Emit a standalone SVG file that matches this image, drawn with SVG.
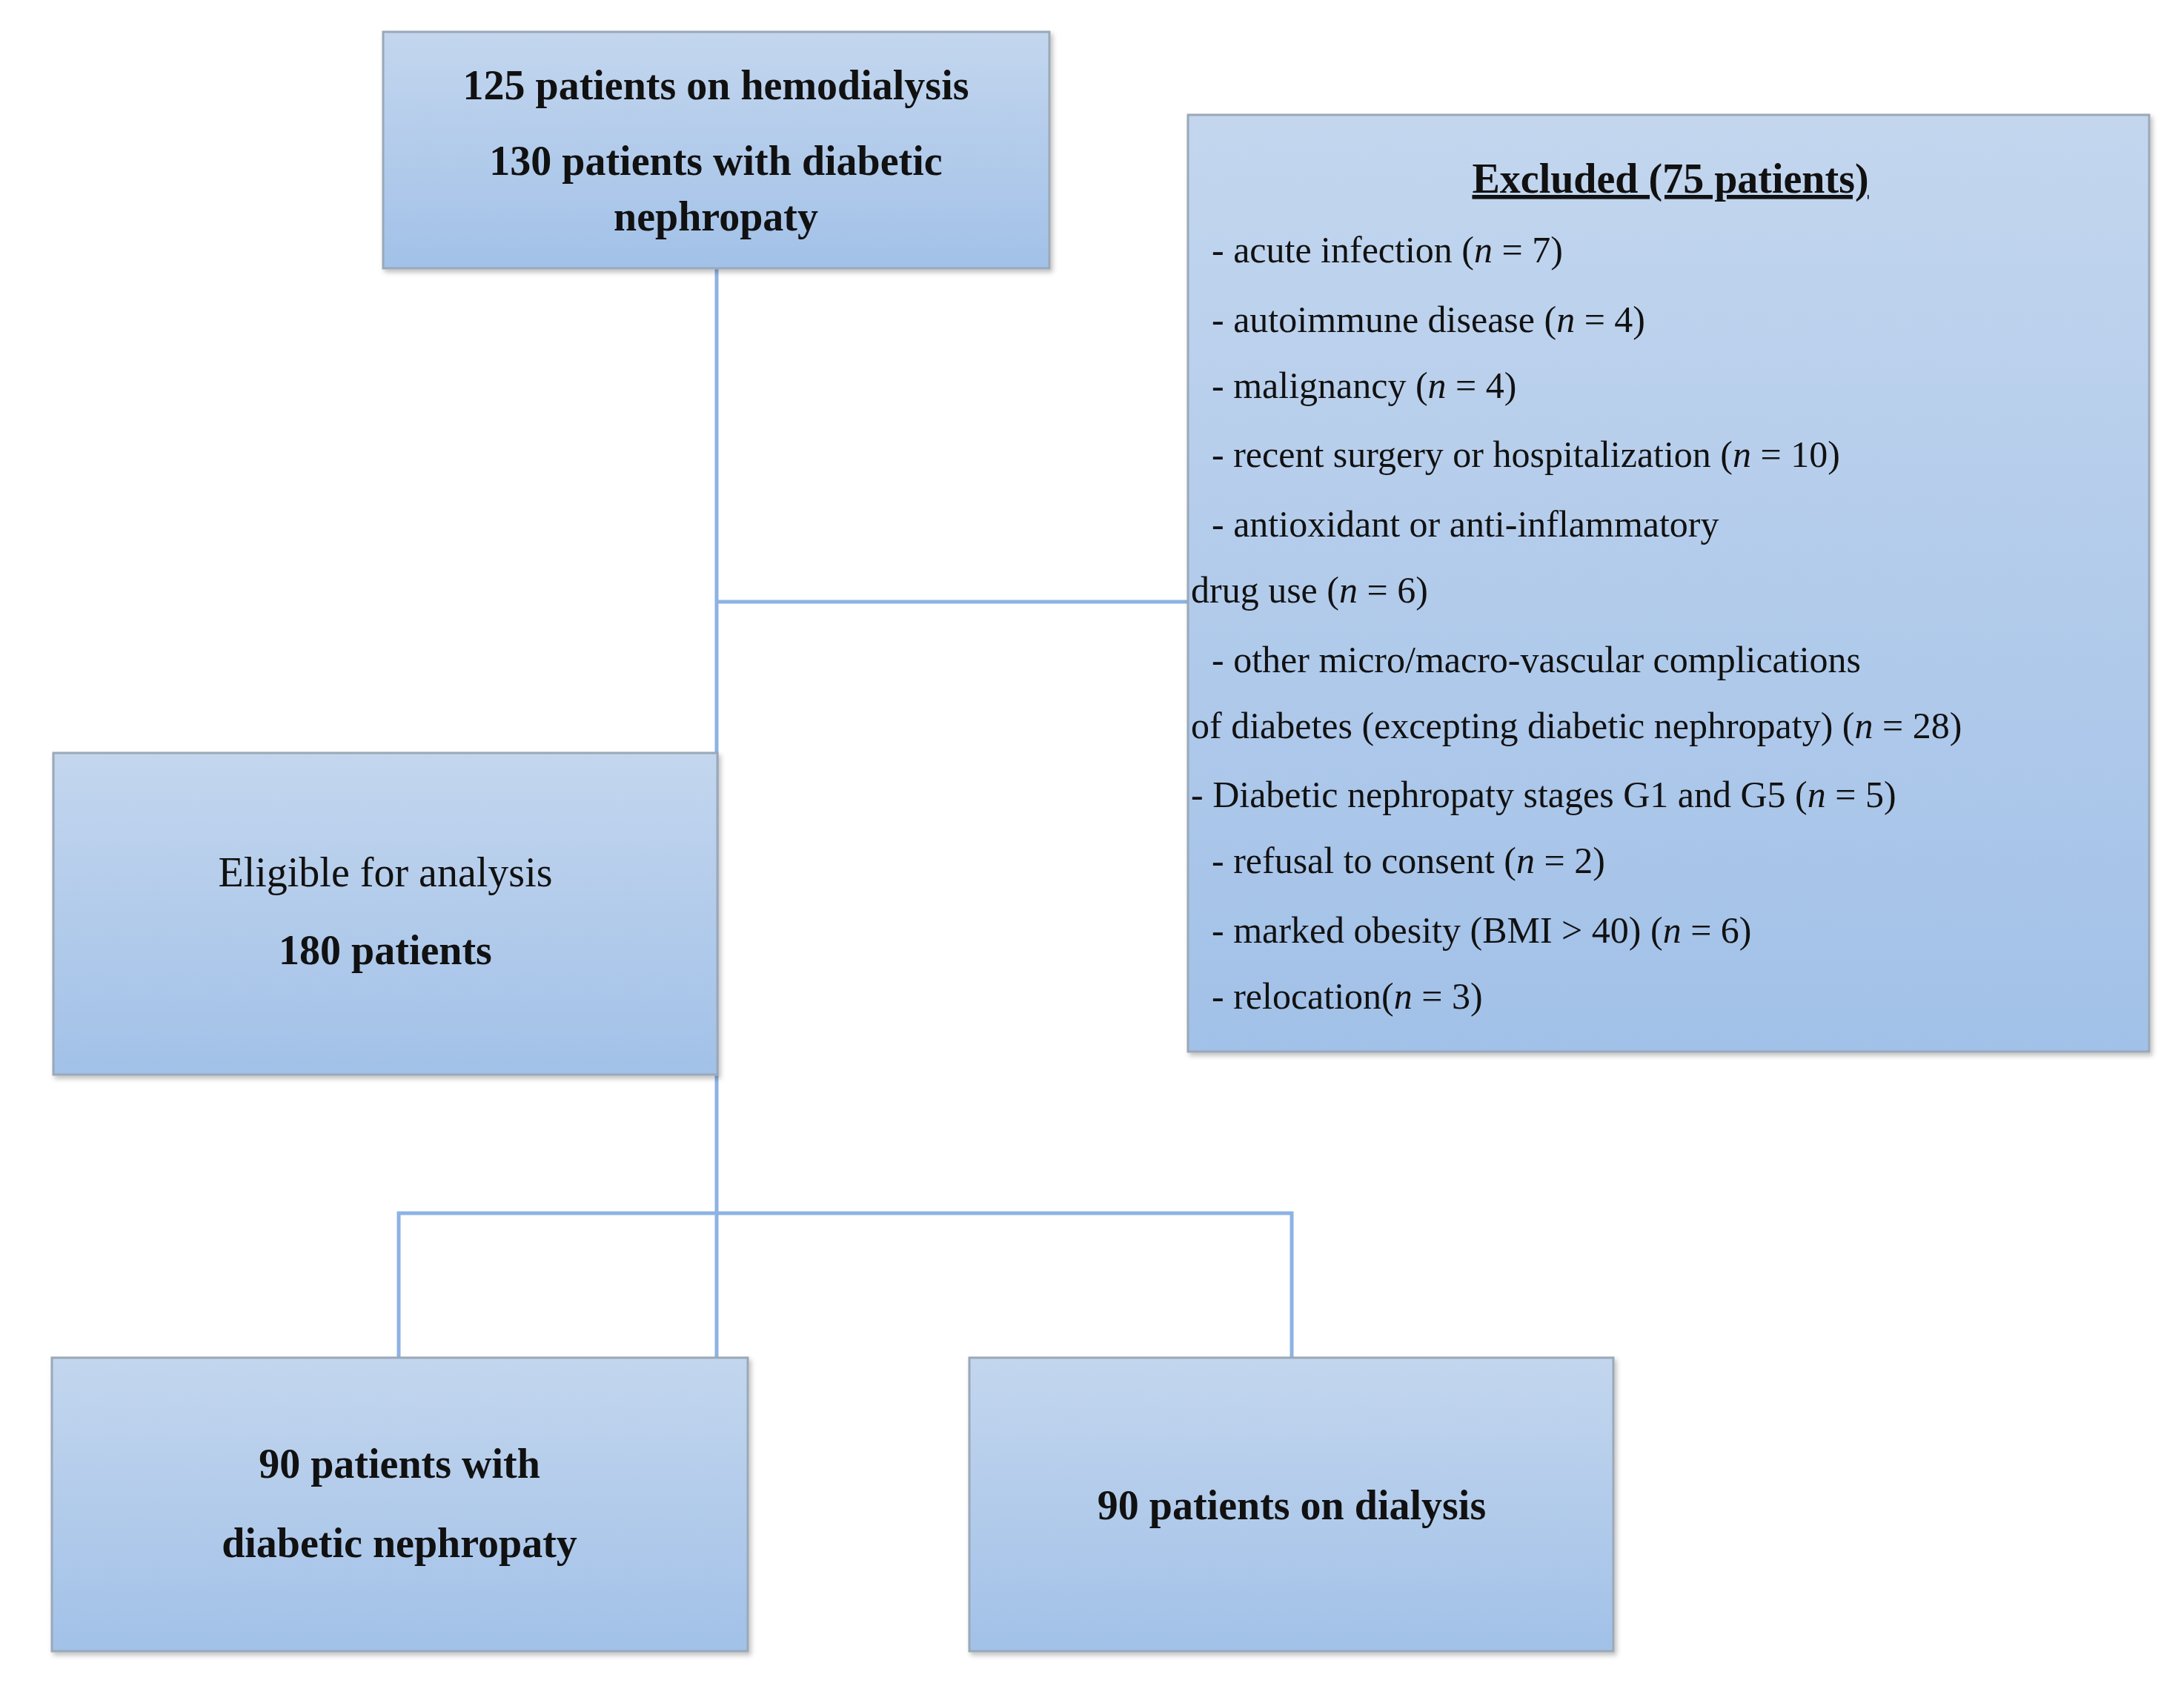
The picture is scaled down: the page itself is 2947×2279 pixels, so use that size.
<svg xmlns="http://www.w3.org/2000/svg" width="2947" height="2279" viewBox="0 0 2947 2279">
<defs>
<linearGradient id="g" x1="0" y1="0" x2="0" y2="1"><stop offset="0" stop-color="#c3d6ee"/><stop offset="1" stop-color="#a2c1e8"/></linearGradient>
<filter id="sh" x="-5%" y="-5%" width="110%" height="110%"><feDropShadow dx="3" dy="4" stdDeviation="3" flood-color="#000" flood-opacity="0.25"/></filter>
</defs>
<style>
.box{fill:url(#g);stroke:#9aa8b8;stroke-width:3;filter:url(#sh)}
.t{font-family:"Liberation Serif",serif;font-size:56px;fill:#111}
.b{font-weight:bold;text-anchor:middle}
.c{text-anchor:middle}
.e{font-size:50px}
.ln{stroke:#8db3e4;stroke-width:5;fill:none}
</style>
<rect width="2947" height="2279" fill="#fff"/>
<g id="connectors">
<path class="ln" d="M967 362 V1832"/>
<path class="ln" d="M967 812 H1603"/>
<path class="ln" d="M538 1832 V1637 H1743 V1832"/>
</g>
<g id="top">
<rect class="box" x="517" y="43" width="899" height="319"/>
<text class="t b" x="966" y="134">125 patients on hemodialysis</text>
<text class="t b" x="966" y="236">130 patients with diabetic</text>
<text class="t b" x="966" y="311">nephropaty</text>
</g>
<g id="excluded">
<rect class="box" x="1603" y="155" width="1297" height="1264"/>
<text class="t b" x="2254" y="260" text-decoration="underline">Excluded (75 patients)</text>
<text class="t e" x="1635" y="354">- acute infection (<tspan font-style="italic">n</tspan> = 7)</text>
<text class="t e" x="1635" y="448">- autoimmune disease (<tspan font-style="italic">n</tspan> = 4)</text>
<text class="t e" x="1635" y="537">- malignancy (<tspan font-style="italic">n</tspan> = 4)</text>
<text class="t e" x="1635" y="630">- recent surgery or hospitalization (<tspan font-style="italic">n</tspan> = 10)</text>
<text class="t e" x="1635" y="724">- antioxidant or anti-inflammatory</text>
<text class="t e" x="1607" y="813">drug use (<tspan font-style="italic">n</tspan> = 6)</text>
<text class="t e" x="1635" y="907">- other micro/macro-vascular complications</text>
<text class="t e" x="1607" y="996">of diabetes (excepting diabetic nephropaty) (<tspan font-style="italic">n</tspan> = 28)</text>
<text class="t e" x="1607" y="1089">- Diabetic nephropaty stages G1 and G5 (<tspan font-style="italic">n</tspan> = 5)</text>
<text class="t e" x="1635" y="1178">- refusal to consent (<tspan font-style="italic">n</tspan> = 2)</text>
<text class="t e" x="1635" y="1272">- marked obesity (BMI &gt; 40) (<tspan font-style="italic">n</tspan> = 6)</text>
<text class="t e" x="1635" y="1361">- relocation(<tspan font-style="italic">n</tspan> = 3)</text>
</g>
<g id="eligible">
<rect class="box" x="72" y="1016" width="896" height="434"/>
<text class="t c" x="520" y="1196">Eligible for analysis</text>
<text class="t b" x="520" y="1301">180 patients</text>
</g>
<g id="dn">
<rect class="box" x="70" y="1832" width="939" height="396"/>
<text class="t b" x="539" y="1994">90 patients with</text>
<text class="t b" x="539" y="2101">diabetic nephropaty</text>
</g>
<g id="dialysis">
<rect class="box" x="1308" y="1832" width="869" height="396"/>
<text class="t b" x="1743" y="2050">90 patients on dialysis</text>
</g>
</svg>
